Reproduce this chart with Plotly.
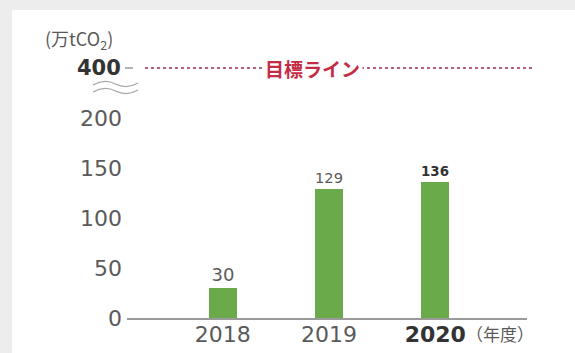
import plotly.graph_objects as go

# ---- data ----
years = ["2018", "2019", "2020"]
emissions = [30, 129, 136]          # 万tCO2
bold_year = "2020"
y_ticks = [0, 50, 100, 150, 200]
target_value = 400
target_label = "目標ライン"
unit_label = "(万tCO<sub>2</sub>)"
year_unit = "（年度）"

# broken axis: values above the break are drawn at this position
axis_break_pos = 250

W, H = 575, 353
ML, MR, MT, MB = 127, 48, 48, 35
plot_w = W - ML - MR
plot_h = H - MT - MB

FONT = "DejaVu Sans, Liberation Sans, sans-serif"
JP = "Noto Sans CJK JP, sans-serif"
GREY = "#5a5a5a"
DARK = "#333333"
GREEN = "#6aaa4b"
RED = "#c42b45"

def px_to_paper_x(px):
    return (px - ML) / plot_w

def px_to_paper_y(py):
    return (H - MB - py) / plot_h

bar_text = [f"<b>{v}</b>" if y == bold_year else str(v) for y, v in zip(years, emissions)]
text_colors = [DARK if y == bold_year else GREY for y in years]
tick_text = [f"<b><span style='color:{DARK}'>{y}</span></b>" if y == bold_year else y for y in years]

fig = go.Figure()
fig.add_trace(go.Bar(
    x=list(range(len(years))), y=emissions,
    marker=dict(color=GREEN, line=dict(width=0)),
    width=0.263,
    text=bar_text, textposition="outside",
    textfont=dict(family=FONT, size=18, color=text_colors),
    cliponaxis=False, hoverinfo="skip",
))

fig.update_layout(
    width=W, height=H,
    margin=dict(l=ML, r=MR, t=MT, b=MB, pad=0, autoexpand=False),
    paper_bgcolor="#ededed", plot_bgcolor="white",
    showlegend=False,
    bargap=0,
    xaxis=dict(
        range=[-0.90, 2.863], tickmode="array",
        tickvals=list(range(len(years))), ticktext=tick_text,
        tickfont=dict(family=FONT, size=22, color=GREY),
        showgrid=False, zeroline=False, showline=True,
        linecolor="#9a9a9a", linewidth=1.5, ticks="",
        ticklabelstandoff=-4, automargin=False,
    ),
    yaxis=dict(
        range=[0, 270], tickmode="array",
        tickvals=y_ticks, ticktext=[str(v) for v in y_ticks],
        tickfont=dict(family=FONT, size=22, color=GREY),
        showgrid=False, zeroline=False, showline=False, ticks="",
        ticklabelstandoff=4, automargin=False,
    ),
)

# white panel
fig.add_shape(type="rect", xref="paper", yref="paper",
              x0=px_to_paper_x(12), x1=px_to_paper_x(W + 5),
              y0=px_to_paper_y(H + 5), y1=px_to_paper_y(10),
              fillcolor="white", line=dict(width=0), layer="below")

# target line (drawn at break position)
fig.add_shape(type="line", xref="paper", yref="y",
              x0=px_to_paper_x(145), x1=px_to_paper_x(533),
              y0=axis_break_pos, y1=axis_break_pos,
              line=dict(color="#b06078", width=2, dash="dot"))
# short tick next to 400
fig.add_shape(type="line", xref="paper", yref="y",
              x0=px_to_paper_x(125), x1=px_to_paper_x(133),
              y0=axis_break_pos, y1=axis_break_pos,
              line=dict(color="#9a9a9a", width=1.5))

# 400 label
fig.add_annotation(xref="paper", yref="y", x=px_to_paper_x(123), y=axis_break_pos,
                   text=f"<b>{target_value}</b>", showarrow=False, xanchor="right",
                   yanchor="middle", font=dict(family=FONT, size=21, color=DARK))
# target text
fig.add_annotation(xref="paper", yref="y", x=px_to_paper_x(312), y=axis_break_pos,
                   text=f"<b>{target_label}</b>", showarrow=False, xanchor="center",
                   yanchor="middle", bgcolor="white", borderpad=2,
                   font=dict(family=JP, size=19, color=RED))
# unit label
fig.add_annotation(xref="paper", yref="paper", x=px_to_paper_x(43), y=px_to_paper_y(40),
                   text=unit_label, showarrow=False, xanchor="left", yanchor="middle",
                   font=dict(family=JP, size=18, color=GREY))
# year unit
fig.add_annotation(xref="paper", yref="paper", x=px_to_paper_x(464), y=px_to_paper_y(333),
                   text=year_unit, showarrow=False, xanchor="left", yanchor="middle",
                   font=dict(family=JP, size=17, color=GREY))

# break mark (two waves)
def wave(ycenter_px, x0=93, x1=138, amp=3.5):
    xs = [x0 + (x1 - x0) * k / 4 for k in range(5)]
    p = f"M {px_to_paper_x(xs[0])},{px_to_paper_y(ycenter_px + amp * 0.3)}"
    p += f" Q {px_to_paper_x(xs[1])},{px_to_paper_y(ycenter_px - amp * 1.6)} {px_to_paper_x(xs[2])},{px_to_paper_y(ycenter_px)}"
    p += f" T {px_to_paper_x(xs[4])},{px_to_paper_y(ycenter_px - amp * 0.3)}"
    return p

for yc in (84, 91):
    fig.add_shape(type="path", xref="paper", yref="paper", path=wave(yc),
                  line=dict(color="#a8a8a8", width=1.3))

fig.write_html("out.html")
